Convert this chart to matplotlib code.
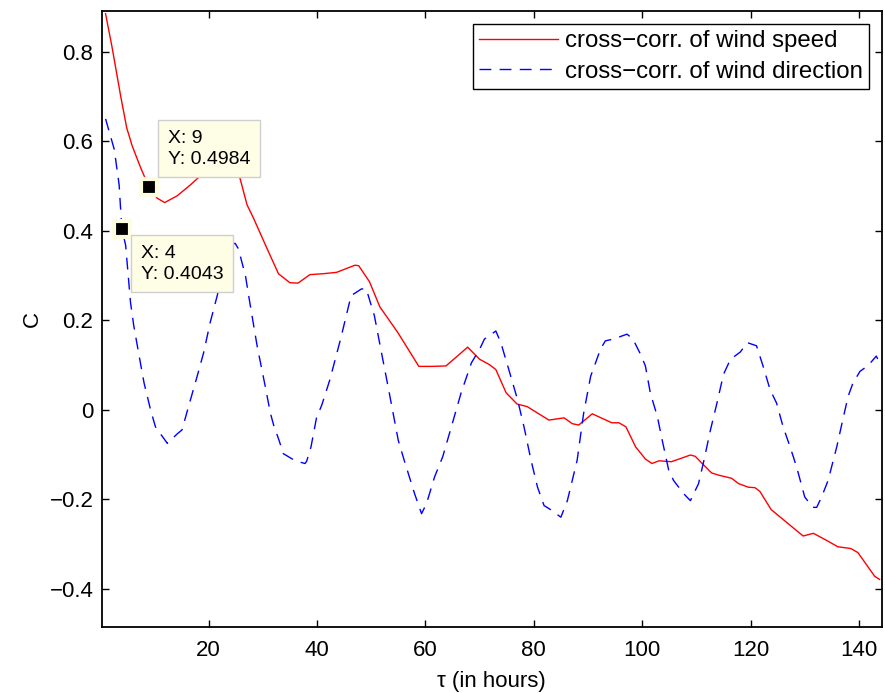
import matplotlib
matplotlib.use('Agg')
from matplotlib import pyplot as plt

plt.rcParams['font.family'] = ['Liberation Sans', 'DejaVu Sans']

# cross-correlation of wind speed
speed_lag = [1.0, 2.2, 3.8, 4.9, 5.9, 7.5, 9.0, 10.5, 11.9, 14.2, 16.7, 18.5, 20.5, 22.5,
             24.3, 25.7, 27.1, 28.3, 30.8, 32.9, 35.0, 36.5, 38.7, 41.1, 43.6, 47.0, 47.7,
             49.7, 51.6, 54.9, 58.8, 61.3, 63.8, 66.3, 67.8, 70.0, 71.8, 73.0, 74.9, 76.9,
             78.8, 82.8, 85.6, 87.1, 88.3, 90.8, 94.4, 95.7, 97.0, 98.8, 100.6, 101.8, 103.1,
             105.4, 107.3, 108.9, 109.8, 111.0, 112.8, 114.1, 116.5, 117.8, 119.6, 120.8,
             121.7, 123.8, 126.3, 129.7, 131.6, 133.9, 136.1, 138.5, 139.8, 142.9, 143.8]
speed_c = [0.885, 0.81, 0.70, 0.63, 0.59, 0.54, 0.498, 0.473, 0.463, 0.478, 0.503, 0.523,
           0.55, 0.565, 0.55, 0.522, 0.458, 0.428, 0.36, 0.304, 0.284, 0.283, 0.302, 0.304,
           0.307, 0.323, 0.322, 0.286, 0.23, 0.173, 0.097, 0.097, 0.098, 0.124, 0.14, 0.113,
           0.101, 0.09, 0.038, 0.013, 0.007, -0.023, -0.018, -0.031, -0.034, -0.009, -0.029,
           -0.029, -0.038, -0.083, -0.11, -0.12, -0.114, -0.116, -0.108, -0.101, -0.104,
           -0.119, -0.141, -0.146, -0.153, -0.165, -0.173, -0.174, -0.182, -0.223, -0.248,
           -0.282, -0.276, -0.291, -0.306, -0.31, -0.319, -0.372, -0.379]

# cross-correlation of wind direction
dir_lag = [1.0, 2.6, 3.5, 4.0, 4.7, 5.6, 6.2, 7.2, 8.1, 9.3, 10.2, 11.5, 12.4, 14.2, 15.1,
           16.3, 17.9, 19.1, 20.3, 21.6, 22.8, 24.0, 24.9, 25.5, 26.8, 27.7, 29.0, 30.4,
           31.4, 32.0, 33.0, 33.8, 36.0, 37.8, 38.1, 38.9, 39.9, 40.9, 41.8, 42.4, 44.4,
           46.3, 48.2, 49.1, 50.6, 51.9, 53.1, 55.0, 56.1, 58.0, 59.3, 60.2, 61.7, 63.2,
           64.8, 66.6, 68.5, 70.0, 70.9, 73.0, 73.9, 75.2, 77.0, 78.2, 79.5, 80.7, 81.9,
           83.1, 85.0, 86.2, 88.0, 89.2, 90.5, 92.3, 93.2, 94.7, 97.2, 98.3, 99.7, 100.6,
           101.5, 102.8, 103.7, 104.9, 105.8, 107.7, 108.9, 110.4, 111.4, 112.6, 113.8,
           115.0, 116.3, 118.1, 119.4, 121.1, 122.3, 123.6, 124.8, 126.0, 127.3, 128.5,
           130.0, 131.5, 132.2, 133.1, 134.3, 135.9, 137.0, 138.0, 138.9, 140.2, 141.7,
           143.2, 144.0]
dir_c = [0.65, 0.582, 0.503, 0.404, 0.368, 0.24, 0.188, 0.12, 0.06, 0.0, -0.038, -0.06,
         -0.075, -0.054, -0.045, 0.007, 0.075, 0.128, 0.195, 0.255, 0.323, 0.368, 0.372,
         0.36, 0.30, 0.233, 0.14, 0.056, -0.007, -0.034, -0.068, -0.098, -0.114, -0.12,
         -0.115, -0.083, -0.019, 0.011, 0.045, 0.068, 0.16, 0.255, 0.27, 0.27, 0.21, 0.128,
         0.053, -0.068, -0.113, -0.187, -0.232, -0.21, -0.15, -0.105, -0.038, 0.038, 0.105,
         0.135, 0.158, 0.176, 0.151, 0.098, 0.023, -0.038, -0.113, -0.173, -0.214, -0.223,
         -0.24, -0.203, -0.113, -0.008, 0.075, 0.135, 0.154, 0.158, 0.169, 0.158, 0.124,
         0.098, 0.038, -0.015, -0.068, -0.135, -0.158, -0.188, -0.203, -0.165, -0.113,
         -0.045, 0.015, 0.079, 0.113, 0.129, 0.15, 0.143, 0.098, 0.045, 0.015, -0.038,
         -0.083, -0.128, -0.195, -0.218, -0.218, -0.195, -0.158, -0.083, -0.023, 0.03,
         0.06, 0.086, 0.099, 0.12, 0.10]

# data tips shown on the figure
tip_x = [9, 4]
tip_y = [0.4984, 0.4043]

x_ticks = [20, 40, 60, 80, 100, 120, 140]
y_ticks = [-0.4, -0.2, 0, 0.2, 0.4, 0.6, 0.8]
y_tick_labels = ['\u22120.4', '\u22120.2', '0', '0.2', '0.4', '0.6', '0.8']

FS = 16

fig = plt.figure(figsize=(8.85, 6.93), dpi=100)
ax = fig.add_axes([0.115, 0.0948, 0.8813, 0.8893])

ax.plot(speed_lag, speed_c, color='#ff0000', lw=1.0, label='cross\u2212corr. of wind speed')
ax.plot(dir_lag, dir_c, color='#0000ff', lw=1.0, dashes=(8.5, 6),
        label='cross\u2212corr. of wind direction')

ax.set_xlim(0.3, 144.2)
ax.set_ylim(-0.486, 0.891)
ax.set_xticks(x_ticks)
ax.set_xticklabels([str(t) for t in x_ticks])
ax.set_yticks(y_ticks)
ax.set_yticklabels(y_tick_labels)
ax.tick_params(direction='in', top=True, right=True, length=5, width=1,
               labelsize=FS, pad=6)
ax.tick_params(axis='x', pad=9)
for sp in ax.spines.values():
    sp.set_linewidth(1.3)

ax.set_xlabel('\u03c4 (in hours)', fontsize=FS, labelpad=7)
ax.set_ylabel('C', fontsize=FS, labelpad=5)

leg = ax.legend(loc='upper right', fontsize=17.3, fancybox=False, framealpha=1,
                edgecolor='black', handlelength=3.3, handletextpad=0.28,
                borderaxespad=0.55, labelspacing=0.35, borderpad=0.25)
leg.get_frame().set_linewidth(1.0)

# data tip markers and boxes
tip_offsets = [(19, 19), (19, -16)]
tip_va = ['bottom', 'top']
for xv, yv, off, va in zip(tip_x, tip_y, tip_offsets, tip_va):
    ax.plot([xv], [yv], marker='s', ms=11.5, mfc='black', mec='#fdfde0', mew=3,
            ls='none', zorder=5)
    ax.annotate(f'X: {xv}\nY: {yv:.4f}', xy=(xv, yv), xytext=off,
                textcoords='offset pixels', ha='left', va=va, fontsize=14,
                linespacing=1.3, zorder=6,
                bbox=dict(boxstyle='square,pad=0.5', fc='#fefee6', ec='#cfcfcf', lw=1))

fig.savefig('out.png', dpi=100)
